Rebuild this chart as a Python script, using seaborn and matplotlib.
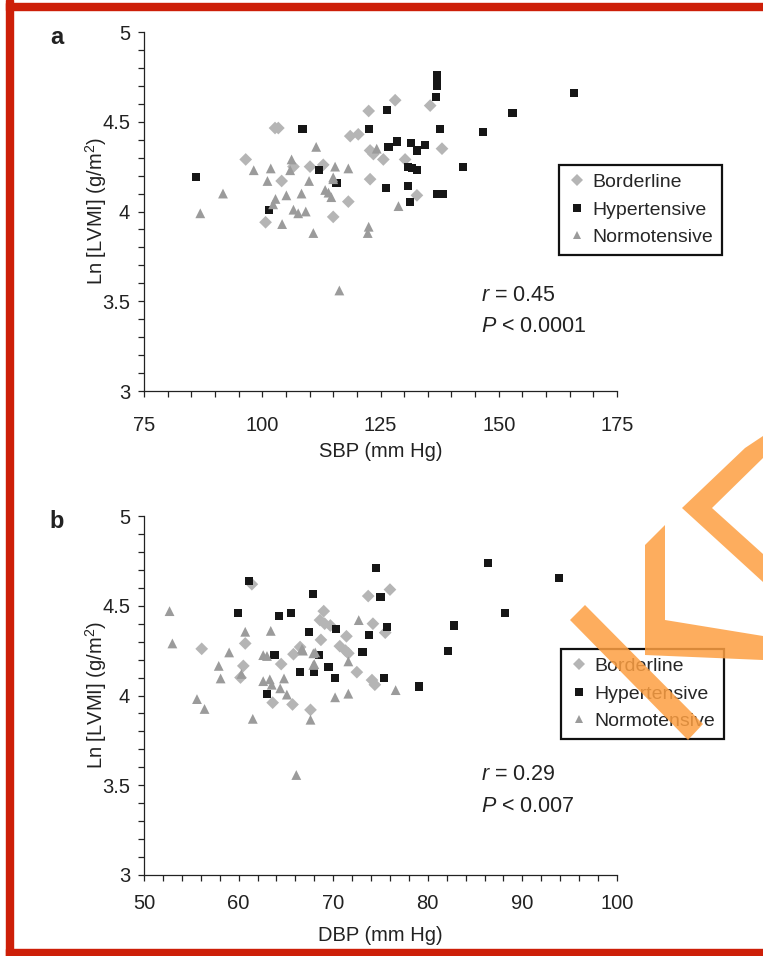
import pandas as pd
import matplotlib.pyplot as plt
import seaborn as sns
from matplotlib.patches import Polygon, Rectangle
from matplotlib.ticker import MultipleLocator, FuncFormatter

groups = ['Borderline', 'Hypertensive', 'Normotensive']

# panel a: SBP vs Ln[LVMI]
sbp_border = [102.7, 103.4, 96.5, 106.6, 110.1, 112.9, 104.1, 100.7, 115.0, 135.5,
              128.1, 122.5, 118.6, 120.3, 138.0, 122.8, 123.5, 125.6, 130.2, 122.8,
              132.7, 118.2]
lvmi_a_border = [4.465, 4.465, 4.29, 4.25, 4.25, 4.26, 4.17, 3.94, 3.97, 4.59,
                 4.62, 4.56, 4.42, 4.43, 4.35, 4.34, 4.32, 4.29, 4.29, 4.18,
                 4.09, 4.055]
sbp_hyper = [108.5, 112.0, 85.9, 115.7, 101.4, 136.9, 136.9, 136.9, 136.8, 166.0,
             152.9, 126.3, 122.6, 137.5, 146.7, 128.5, 126.7, 131.4, 132.7, 134.5,
             130.8, 131.6, 132.7, 142.4, 126.1, 130.9, 136.9, 138.3, 131.2]
lvmi_a_hyper = [4.46, 4.23, 4.19, 4.157, 4.01, 4.70, 4.73, 4.76, 4.64, 4.66,
                4.55, 4.565, 4.46, 4.46, 4.445, 4.39, 4.36, 4.38, 4.34, 4.37,
                4.25, 4.24, 4.23, 4.25, 4.13, 4.14, 4.10, 4.10, 4.055]
sbp_normo = [111.4, 106.2, 98.2, 101.8, 105.9, 115.4, 101.1, 109.9, 115.0, 91.7,
             105.1, 108.3, 113.3, 114.0, 114.6, 102.8, 102.3, 106.6, 107.6, 109.2,
             86.9, 104.2, 110.8, 124.2, 118.2, 115.0, 128.8, 122.5, 122.3, 116.3]
lvmi_a_normo = [4.36, 4.29, 4.23, 4.24, 4.23, 4.25, 4.17, 4.17, 4.18, 4.10,
                4.09, 4.10, 4.12, 4.105, 4.08, 4.07, 4.04, 4.01, 3.99, 4.00,
                3.99, 3.93, 3.88, 4.35, 4.24, 4.19, 4.03, 3.915, 3.88, 3.56]

# panel b: DBP vs Ln[LVMI]
dbp_border = [61.4, 60.7, 56.1, 64.5, 66.5, 65.8, 60.5, 60.2, 63.6, 65.7,
              67.6, 73.7, 76.0, 69.0, 74.2, 75.5, 68.6, 69.1, 69.7, 71.4,
              68.7, 70.7, 71.3, 71.6, 72.5, 74.1, 74.4]
lvmi_b_border = [4.62, 4.29, 4.26, 4.175, 4.27, 4.23, 4.165, 4.10, 3.96, 3.95,
                 3.92, 4.554, 4.59, 4.47, 4.40, 4.35, 4.42, 4.40, 4.39, 4.33,
                 4.31, 4.275, 4.25, 4.235, 4.13, 4.086, 4.06]
dbp_hyper = [61.1, 67.9, 59.9, 64.3, 65.5, 67.4, 63.8, 66.5, 68.0, 63.0,
             74.5, 86.4, 93.9, 75.0, 75.7, 82.8, 88.2, 70.3, 73.8, 73.1,
             82.1, 68.5, 69.5, 70.2, 75.4, 79.1]
lvmi_b_hyper = [4.64, 4.565, 4.46, 4.445, 4.46, 4.355, 4.225, 4.13, 4.13, 4.01,
                4.71, 4.74, 4.656, 4.55, 4.38, 4.39, 4.46, 4.37, 4.337, 4.24,
                4.25, 4.225, 4.16, 4.10, 4.10, 4.05]
dbp_normo = [52.7, 60.7, 63.4, 53.0, 59.0, 62.6, 63.0, 66.8, 67.9, 57.9,
             67.9, 58.1, 60.3, 62.6, 63.3, 63.5, 64.8, 64.4, 65.1, 55.6,
             56.4, 61.5, 67.6, 66.1, 72.7, 66.7, 68.1, 71.6, 68.0, 76.6,
             70.2, 71.6]
lvmi_b_normo = [4.47, 4.355, 4.36, 4.29, 4.24, 4.225, 4.22, 4.25, 4.235, 4.165,
                4.17, 4.095, 4.12, 4.08, 4.09, 4.06, 4.095, 4.04, 4.005, 3.98,
                3.925, 3.87, 3.865, 3.557, 4.42, 4.26, 4.24, 4.19, 4.175, 4.03,
                3.99, 4.01]

W, H = 763, 956


def fig_xy(px, py):
    # pixel position -> figure fraction
    return (px / W, 1 - py / H)


def make_df(xs, ys, xname):
    frames = [pd.DataFrame({xname: x, 'LVMI': y, 'Group': g}) for g, x, y in zip(groups, xs, ys)]
    return pd.concat(frames, ignore_index=True)


def draw_panel(ax, df, xcol, xlim, major, minor, xlabel, r_txt, p_txt, xpad, xlabpad, leg_anchor, txt_y):
    palette = {'Borderline': '#b5b5b5', 'Hypertensive': '#161616', 'Normotensive': '#9b9b9b'}
    markers = {'Borderline': 'D', 'Hypertensive': 's', 'Normotensive': '^'}
    sizes = {'Borderline': 42, 'Hypertensive': 34, 'Normotensive': 50}
    sns.scatterplot(data=df, x=xcol, y='LVMI', hue='Group', style='Group', size='Group',
                    hue_order=groups, style_order=groups, size_order=groups,
                    palette=palette, markers=markers, sizes=sizes,
                    linewidth=0, ax=ax, clip_on=False)
    ax.set_xlim(*xlim)
    ax.set_ylim(3, 5)
    ax.xaxis.set_major_locator(MultipleLocator(major))
    ax.xaxis.set_minor_locator(MultipleLocator(minor))
    ax.yaxis.set_major_locator(MultipleLocator(0.5))
    ax.yaxis.set_minor_locator(MultipleLocator(0.1))
    ax.yaxis.set_major_formatter(FuncFormatter(lambda v, p: '{:g}'.format(v)))
    ax.tick_params(which='both', direction='out', length=4, width=0.9, color='#222222')
    ax.tick_params(axis='x', which='major', pad=xpad, labelsize=14.5, labelcolor='#222222')
    ax.tick_params(axis='y', which='major', pad=6, labelsize=14.5, labelcolor='#222222')
    for side in ['top', 'right']:
        ax.spines[side].set_visible(False)
    for side in ['left', 'bottom']:
        ax.spines[side].set_linewidth(0.9)
        ax.spines[side].set_color('#222222')
    ax.set_xlabel(xlabel, fontsize=14.5, labelpad=xlabpad, color='#222222')
    ax.set_ylabel('Ln [LVMI] (g/m$^2$)', fontsize=14.5, labelpad=-5, color='#222222')

    handles, labels = ax.get_legend_handles_labels()
    leg = ax.legend(handles[:3], labels[:3], loc='upper left', bbox_to_anchor=leg_anchor,
                    frameon=True, fancybox=False, edgecolor='#111111', framealpha=1,
                    fontsize=14, handletextpad=0.3, borderpad=0.45, labelspacing=0.5,
                    handlelength=1.0, borderaxespad=0, markerscale=0.9)
    leg.get_frame().set_linewidth(1.6)

    ax.text(0.712, txt_y[0], r_txt, transform=ax.transAxes, fontsize=15.5,
            va='center', ha='left', color='#222222')
    ax.text(0.712, txt_y[1], p_txt, transform=ax.transAxes, fontsize=15.5,
            va='center', ha='left', color='#222222')


sns.set_style('ticks')
plt.rcParams['font.family'] = ['Liberation Sans', 'DejaVu Sans']
plt.rcParams['mathtext.fontset'] = 'custom'
plt.rcParams['mathtext.rm'] = 'Liberation Sans'
plt.rcParams['mathtext.it'] = 'Liberation Sans:italic'

fig = plt.figure(figsize=(W / 100, H / 100), dpi=100)
fig.patch.set_facecolor('white')

ax_a = fig.add_axes([144 / W, 1 - 391 / H, 473 / W, 359 / H])
ax_b = fig.add_axes([144 / W, 1 - 875 / H, 473 / W, 359 / H])

df_a = make_df([sbp_border, sbp_hyper, sbp_normo], [lvmi_a_border, lvmi_a_hyper, lvmi_a_normo], 'SBP')
df_b = make_df([dbp_border, dbp_hyper, dbp_normo], [lvmi_b_border, lvmi_b_hyper, lvmi_b_normo], 'DBP')

draw_panel(ax_a, df_a, 'SBP', (75, 175), 25, 5, 'SBP (mm Hg)',
           '$r$ = 0.45', '$P$ < 0.0001', 14, 5, (0.877, 0.63), (0.267, 0.181))
draw_panel(ax_b, df_b, 'DBP', (50, 100), 10, 2, 'DBP (mm Hg)',
           '$r$ = 0.29', '$P$ < 0.007', 10, 9, (0.881, 0.63), (0.279, 0.192))

# panel letters
fig.text(*fig_xy(57, 37), 'a', fontsize=17, fontweight='bold', ha='center', va='center', color='#222222')
fig.text(*fig_xy(57, 521), 'b', fontsize=17, fontweight='bold', ha='center', va='center', color='#222222')

# red frame round the figure
red = '#cd1f08'
fig.add_artist(Rectangle(fig_xy(6, 10), (W - 6) / W, 7 / H, transform=fig.transFigure, color=red, zorder=5))
fig.add_artist(Rectangle(fig_xy(6, H), 7 / W, 1, transform=fig.transFigure, color=red, zorder=5))
fig.add_artist(Rectangle(fig_xy(6, H), (W - 6) / W, 7 / H, transform=fig.transFigure, color=red, zorder=5))

# orange watermark strokes
orange = '#fd9f42'
shapes = [
    [(570, 620), (585, 605), (703, 724), (688, 740)],
    [(645, 545), (665, 525), (665, 620), (763, 636), (763, 660), (645, 655)],
    [(763, 436), (745, 448), (682, 508), (763, 582), (763, 554), (712, 508), (763, 458)],
]
for pts in shapes:
    fig.add_artist(Polygon([fig_xy(x, y) for x, y in pts], closed=True, transform=fig.transFigure,
                           facecolor=orange, edgecolor='none', alpha=0.85, zorder=6))

fig.savefig('out.png', dpi=100)
plt.close(fig)
